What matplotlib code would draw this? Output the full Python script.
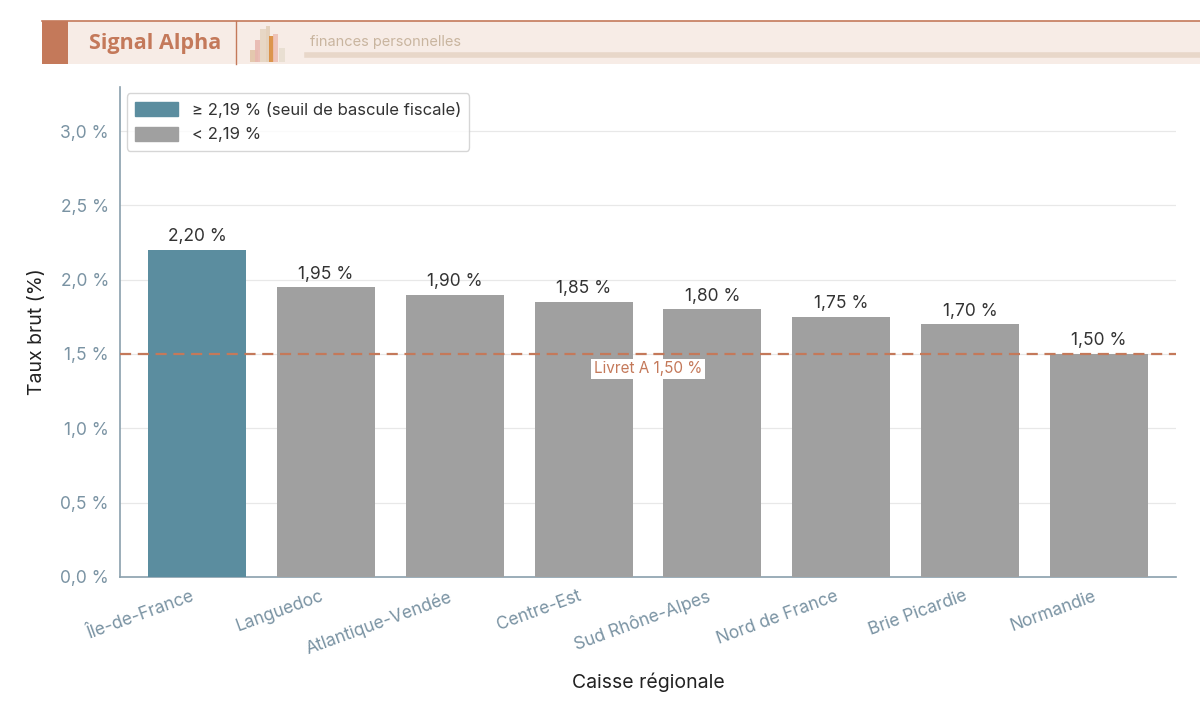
import matplotlib.pyplot as plt
import matplotlib.patches as mpatches
import matplotlib.transforms as mtransforms
import numpy as np

plt.rcParams['font.family'] = ['Inter', 'DejaVu Sans']

# Données
caisses = ['Île-de-France', 'Languedoc', 'Atlantique-Vendée', 'Centre-Est',
           'Sud Rhône-Alpes', 'Nord de France', 'Brie Picardie', 'Normandie']
taux = [2.20, 1.95, 1.90, 1.85, 1.80, 1.75, 1.70, 1.50]
seuil = 2.19
livret_a = 1.50
yticks = [0.0, 0.5, 1.0, 1.5, 2.0, 2.5, 3.0]

col_haut = '#5b8d9f'
col_bas = '#a0a0a0'
col_accent = '#c4795a'
col_tick = '#7a93a3'

fig = plt.figure(figsize=(12, 7.21), dpi=100)
ax = fig.add_axes([0.1, 0.2, 0.88, 0.68])

x = np.arange(len(caisses))
couleurs = [col_haut if t >= seuil else col_bas for t in taux]
ax.bar(x, taux, width=0.76, color=couleurs, zorder=3)

for xi, t in zip(x, taux):
    ax.text(xi, t + 0.03, f'{t:.2f} %'.replace('.', ','), ha='center', va='bottom',
            fontsize=12.5, color='#333333', zorder=4)

ax.axhline(livret_a, color=col_accent, linestyle=(0, (5, 3)), linewidth=1.6, zorder=4)
ax.text(3.5, livret_a - 0.1, f'Livret A {livret_a:.2f} %'.replace('.', ','), ha='center',
        va='center', fontsize=11, color=col_accent, zorder=5,
        bbox=dict(facecolor='white', edgecolor='none', pad=2))

ax.set_xlim(-0.6, 7.6)
ax.set_ylim(0, 3.3)
ax.set_yticks(yticks)
ax.set_yticklabels([f'{v:.1f} %'.replace('.', ',') for v in yticks])
ax.set_xticks(x)
ax.set_xticklabels(caisses, rotation=20, ha='right', rotation_mode='anchor')
ax.tick_params(axis='both', colors=col_tick, labelsize=12.5, length=0, pad=8)
decal = mtransforms.ScaledTranslation(-6 / 100, 0, fig.dpi_scale_trans)
for lab in ax.get_xticklabels():
    lab.set_transform(lab.get_transform() + decal)
ax.grid(axis='y', color='#e8e8e8', linewidth=0.9, zorder=0)

for s in ['top', 'right']:
    ax.spines[s].set_visible(False)
for s in ['left', 'bottom']:
    ax.spines[s].set_color('#8aa0ad')
    ax.spines[s].set_linewidth(1.2)

ax.set_ylabel('Taux brut (%)', fontsize=14, color='#222222', labelpad=10)
ax.set_xlabel('Caisse régionale', fontsize=14, color='#222222', labelpad=11)

handles = [mpatches.Patch(color=col_haut, label=f'≥ {seuil:.2f} % (seuil de bascule fiscale)'.replace('.', ',')),
           mpatches.Patch(color=col_bas, label=f'< {seuil:.2f} %'.replace('.', ','))]
leg = ax.legend(handles=handles, loc='upper left', fontsize=12, frameon=True,
                edgecolor='#cccccc', handlelength=2.6, handleheight=0.9,
                borderaxespad=0.4, labelspacing=0.55, borderpad=0.5)
for t in leg.get_texts():
    t.set_color('#333333')

# Bandeau d'en-tête
W, H = 1200, 721
def fx(px): return px / W
def fy(py): return 1 - py / H

fig.patches.append(mpatches.Rectangle((fx(42), fy(64)), fx(1200 - 42), (64 - 21) / H,
                                      transform=fig.transFigure, facecolor='#f7ece6',
                                      edgecolor='none'))
fig.patches.append(mpatches.Rectangle((fx(42), fy(64)), fx(26), (64 - 21) / H,
                                      transform=fig.transFigure, facecolor=col_accent,
                                      edgecolor='none'))
fig.add_artist(plt.Line2D([fx(42), 1], [fy(21), fy(21)], color=col_accent, linewidth=1.2))
fig.add_artist(plt.Line2D([fx(236), fx(236)], [fy(21), fy(64)], color=col_accent, linewidth=1))
fig.add_artist(plt.Line2D([fx(307), 1], [fy(55), fy(55)], color='#e8d7c9', linewidth=4))
fig.text(fx(89), fy(43), 'Signal Alpha', fontsize=15.5, fontweight='bold',
         color=col_accent, va='center', family=['Open Sans', 'DejaVu Sans'])
fig.text(fx(310), fy(42), 'finances personnelles', fontsize=10.5,
         color='#c9b59f', va='center')

# petite icône de barres
icon = [(250, 8, 12, '#e2c5a8'), (255, 5, 22, '#e8b8b0'), (260, 6, 33, '#e6d5c2'),
        (266, 4, 36, '#e2cfb8'), (269, 5, 26, '#d98c3c'), (273, 5, 28, '#eec0b6'),
        (279, 6, 14, '#e8ded0')]
for px, w, h, c in icon:
    fig.patches.append(mpatches.Rectangle((fx(px), fy(62)), fx(w), h / H,
                                          transform=fig.transFigure, facecolor=c,
                                          edgecolor='none', alpha=0.9))

fig.savefig('out.png', dpi=100)
